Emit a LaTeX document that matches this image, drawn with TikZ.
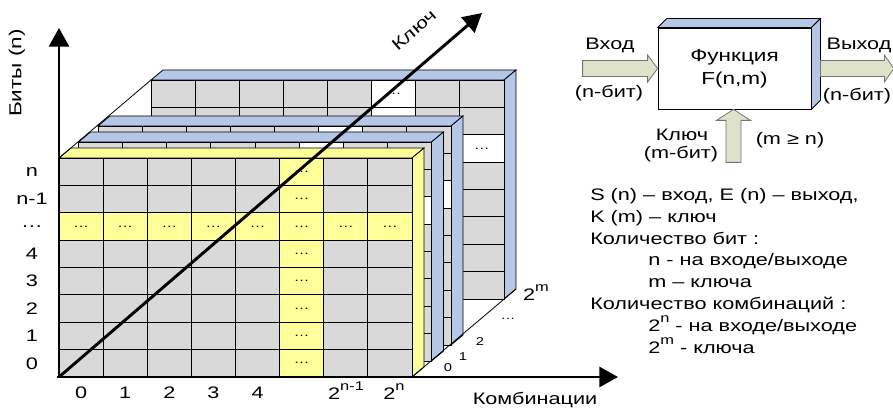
\documentclass[tikz,border=0pt]{standalone}
\usepackage{fontspec}
\setmainfont{Liberation Sans}[FakeStretch=1.3]
\usepackage{tikz}
\usetikzlibrary{arrows.meta, positioning, calc}

\definecolor{cellgrey}{RGB}{217,217,217}
\definecolor{hlyellow}{RGB}{255,255,153}
\definecolor{slabblue}{RGB}{180,199,231}
\definecolor{arrowfill}{RGB}{221,226,202}

\def\cw{44.125}
\def\ch{27.375}
\newcommand{\pw}[1]{2\raisebox{0.55em}{\fontsize{9.5}{10}\selectfont #1}}

% one 8x8 slab of cells: shift x, shift y, side colour, highlight colour, dots (1/0)
\newcommand{\cellslab}[5]{%
  \begin{scope}[shift={(#1,#2)}]
    \draw[cellline, fill=#3] (59,158) -- ++(12,-10) -- ++(353,0) -- (412,158) -- cycle;
    \draw[cellline, fill=#3] (412,158) -- ++(12,-10) -- ++(0,219) -- (412,377) -- cycle;
    \foreach \c in {0,...,7}{
      \foreach \r in {0,...,7}{
        \pgfmathtruncatemacro{\hl}{(\c==5)||(\r==2)}
        \ifnum\hl=1
          \draw[cellline, fill=#4] (59+\c*\cw,158+\r*\ch) rectangle ++(\cw,\ch);
          \ifnum#5=1
            \node[dots] (dot-\c-\r) at (59+\c*\cw+0.5*\cw,158+\r*\ch+0.5*\ch) {…};
          \fi
        \else
          \draw[cellline, fill=cellgrey] (59+\c*\cw,158+\r*\ch) rectangle ++(\cw,\ch);
        \fi
      }}
  \end{scope}}

\begin{document}
\begin{tikzpicture}[x=0.75pt, y=-0.75pt,
        axis/.style={line width=2.2pt, -{Triangle[length=14pt,width=15pt]}},
        cellline/.style={draw=black, line width=0.6pt},
        dots/.style={font=\fontsize{9}{9}\selectfont, inner sep=0pt},
        lbl/.style={font=\fontsize{12.5}{14}\selectfont, inner sep=0pt},
        small/.style={font=\fontsize{8.5}{10}\selectfont, inner sep=0pt},
        fatarrow/.style={draw=black!55, fill=arrowfill, line width=0.6pt}
    ]
        \useasboundingbox (0,0) rectangle (893,409);

        % Slabs, back to front
        \cellslab{92}{-78}{slabblue}{white}{0}
        \node[dots] (backDotTop) at (59+92+5.5*\cw,158-78+0.5*\ch) {…};
        \node[dots] (backDotSide) at (59+92+7.5*\cw,158-78+2.5*\ch) {…};
        \cellslab{39}{-32}{slabblue}{white}{0}
        \cellslab{19.5}{-16}{slabblue}{white}{0}
        \cellslab{0}{0}{hlyellow}{hlyellow}{1}

        % Edges of the stack
        \coordinate (frontTL) at (59,158);
        \coordinate (backTL) at (151,80);
        \coordinate (frontBR) at (412,377);
        \coordinate (backBR) at (516,289);
        \draw[line width=0.6pt] (frontTL) -- (backTL);
        \draw[line width=0.6pt] (frontBR) -- (backBR);

        % Axes
        \coordinate (O) at (59,377);
        \coordinate (yTip) at (59,28);
        \coordinate (xTip) at (618,377);
        \coordinate (kTip) at (482,13);
        \draw[axis] (O) -- (yTip);
        \draw[axis] (57,377) -- (xTip);
        \draw[axis] (O) -- (kTip);

        \node[lbl, rotate=90, font=\fontsize{13}{14}\selectfont] (bitsAxis) at (17,73) {Биты (n)};
        \node[lbl, rotate=40.7] (keyAxis) at (414,30) {Ключ};
        \node[lbl] (combAxis) at (535,400) {Комбинации};

        % Row labels
        \foreach \t [count=\i] in {n, n-1, …, 4, 3, 2, 1, 0}
            \node[lbl] (row-\i) at (32,158+\i*\ch-0.5*\ch) {\t};

        % Column labels
        \foreach \t [count=\i] in {0, 1, 2, 3, 4}
            \node[lbl] (col-\i) at (59+\i*\cw-0.5*\cw,393) {\t};
        \node[lbl, anchor=base] (col-7) at (346,400) {\pw{n-1}};
        \node[lbl, anchor=base] (col-8) at (394,400) {\pw{n}};

        % Key depth labels
        \node[small] (k0) at (448,368) {0};
        \node[small] (k1) at (463,357) {1};
        \node[small] (k2) at (480,342) {2};
        \node[small] (kd) at (508,319) {…};
        \node[lbl, anchor=base] (km) at (536,301) {\pw{m}};

        % Function block
        \node[draw, fill=white, line width=0.6pt, minimum width=114.75pt, minimum height=60.75pt,
              align=center, font=\fontsize{13}{17.25}\selectfont] (func) at (734.5,68.5) {Функция\\F(n,m)};
        \draw[line width=0.6pt, fill=slabblue] (func.north west) -- ++(9,-9) -- ($(func.north east)+(9,-9)$) -- (func.north east) -- cycle;
        \draw[line width=0.6pt, fill=slabblue] (func.north east) -- ++(9,-9) -- ($(func.south east)+(9,-9)$) -- (func.south east) -- cycle;

        % Block arrows
        \draw[fatarrow] (func.west) -- ++(-10,-13.5) -- ++(0,5.5) -- ++(-65,0) -- ++(0,16) -- ++(65,0) -- ++(0,5.5) -- cycle;
        \draw[fatarrow] ($(func.east)+(9,-8)$) -- ++(64,0) -- ++(0,-5.5) -- ++(9.5,13.5) -- ++(-9.5,13.5) -- ++(0,-5.5) -- ++(-64,0) -- cycle;
        \draw[fatarrow] ($(func.south)+(-1,0)$) -- ++(17,11) -- ++(-9.5,0) -- ++(0,42) -- ++(-15,0) -- ++(0,-42) -- ++(-9.5,0) -- cycle;

        \node[lbl] (inLbl) at (610,45) {Вход};
        \node[lbl] (inBits) at (609,93) {(n-бит)};
        \node[lbl] (outLbl) at (859,45) {Выход};
        \node[lbl] (outBits) at (857,96) {(n-бит)};
        \node[lbl] (keyLbl) at (682,135) {Ключ};
        \node[lbl] (keyBits) at (681,154) {(m-бит)};
        \node[lbl] (cond) at (790,140) {(m ≥ n)};

        % Legend
        \node[lbl, align=left, anchor=north west, font=\fontsize{12.5}{16.4}\selectfont] (legend) at (590,188) {
            S (n) -- вход, E (n) -- выход,\\
            K (m) -- ключ\\
            Количество бит :\\
            \hspace*{43.5pt}n - на входе/выходе\\
            \hspace*{43.5pt}m -- ключа\\
            Количество комбинаций :\\
            \hspace*{43.5pt}\pw{n} - на входе/выходе\\
            \hspace*{43.5pt}\pw{m} - ключа
        };
    \end{tikzpicture}
\end{document}
